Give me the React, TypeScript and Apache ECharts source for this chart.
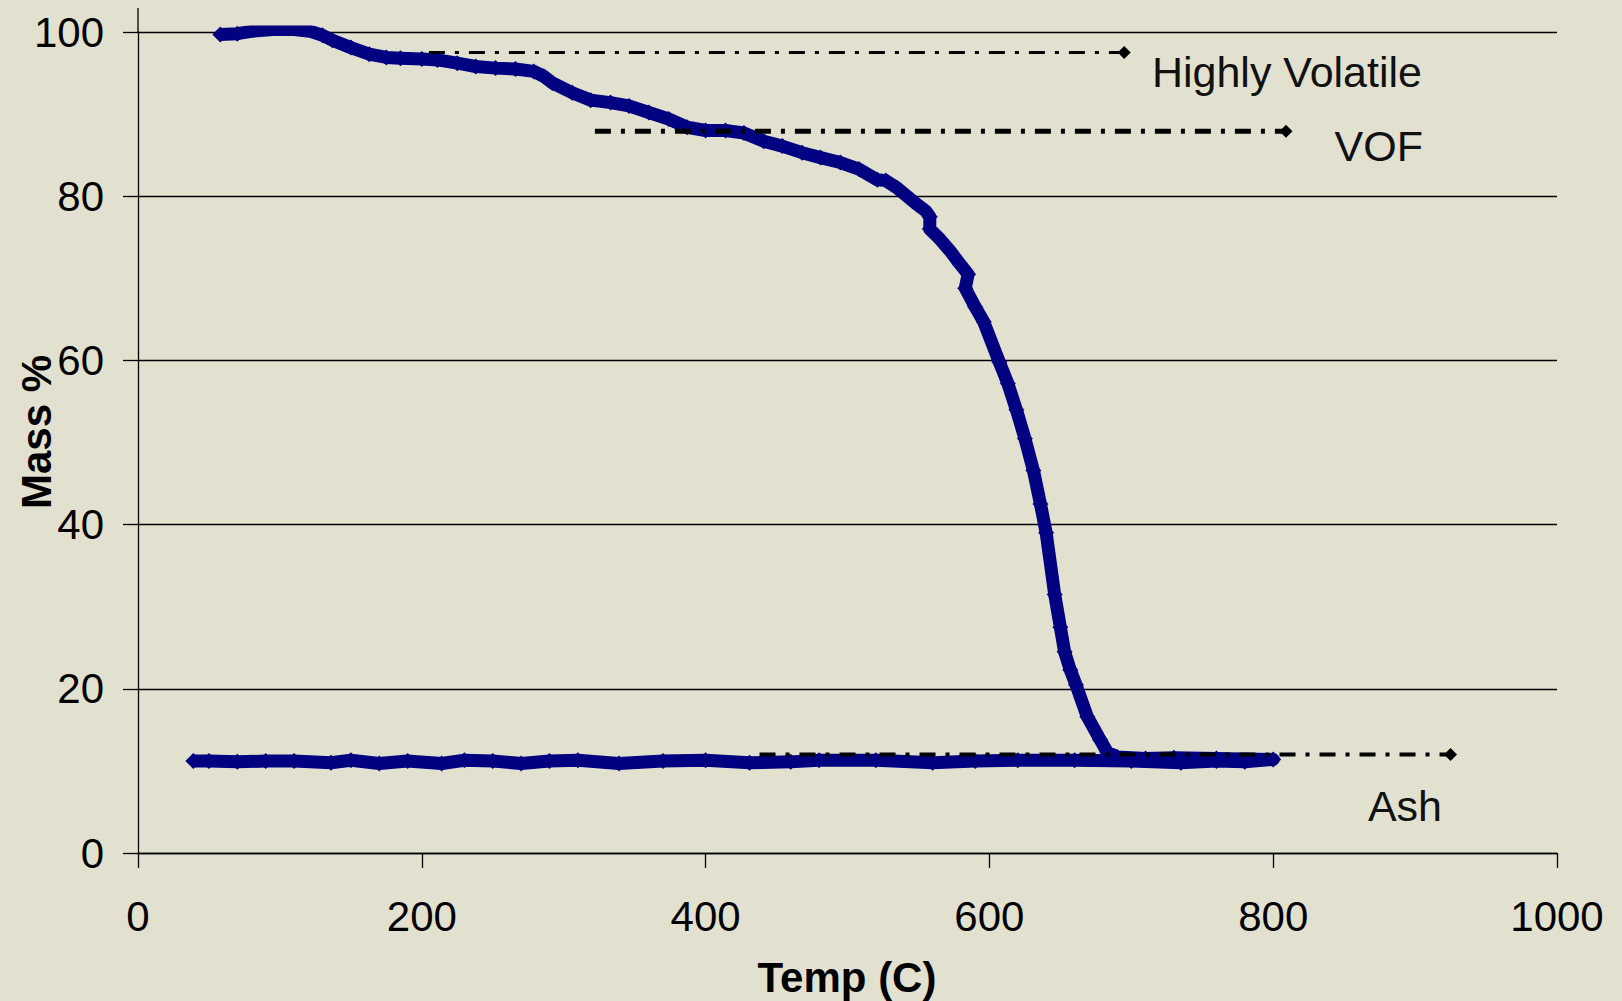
import React, { useEffect, useRef } from "react";
import * as echarts from "echarts";

// Temperature (°C) and mass (%) (heating, then return path at ash level)
const tempC = [
  58, 70, 81, 95, 110, 121, 130, 137, 150, 163, 175, 185, 200, 211, 225, 238, 252, 266, 279, 286, 292,
  306, 319, 333, 346, 360, 374, 387, 400, 414, 427, 441, 454, 468, 481, 495, 508, 521, 527, 535, 549,
  555, 558, 558, 565, 572, 579, 585, 583, 590, 596, 607, 613, 619, 625, 631, 636, 640, 646, 650, 653,
  657, 661, 669, 678, 683, 690, 710, 730, 760, 800,
  780, 760, 735, 700, 660, 620, 590, 560, 520, 480, 460, 431, 400, 370, 339, 310, 290, 270, 250, 230,
  214, 190, 170, 150, 136, 110, 90, 70, 50, 39,
];
const massPct = [
  99.7, 99.8, 100.1, 100.3, 100.3, 100.1, 99.6, 99.0, 98.1, 97.3, 96.9, 96.8, 96.7, 96.6, 96.2, 95.8, 95.6, 95.5, 95.2, 94.6, 93.8,
  92.6, 91.7, 91.4, 91.0, 90.2, 89.4, 88.4, 88.0, 88.0, 87.7, 86.7, 86.1, 85.3, 84.7, 84.1, 83.3, 82.0, 81.9, 81.0, 79.0,
  78.2, 77.5, 76.0, 74.8, 73.4, 71.8, 70.5, 68.8, 66.5, 64.7, 59.8, 57.2, 54.0, 50.5, 46.6, 42.5, 39.0, 31.5, 27.5, 24.5,
  22.3, 20.5, 16.6, 13.8, 12.3, 11.7, 11.5, 11.6, 11.5, 11.4,
  11.1, 11.2, 11.0, 11.2, 11.3, 11.3, 11.2, 11.0, 11.3, 11.3, 11.1, 11.0, 11.3, 11.2, 10.9, 11.3, 11.2, 10.9, 11.2, 11.3,
  10.9, 11.2, 10.9, 11.3, 11.0, 11.2, 11.2, 11.1, 11.2, 11.2,
];

// Reference (dash-dot) lines
const refNames = ["Highly Volatile", "VOF", "Ash"];
const refStart = [205, 322, 438];
const refEnd = [695, 809, 925];
const refLevel = [97.5, 87.9, 12.0];
const refWidth = [3, 5, 4];

const xTicks = { min: 0, max: 1000, interval: 200 };
const yTicks = { min: 0, max: 100, interval: 20 };

const FONT = '"Liberation Sans", Arial, sans-serif';

export default function App() {
  const ref = useRef<HTMLDivElement>(null);

  useEffect(() => {
    document.body.style.margin = "0";
    document.body.style.overflow = "hidden";
    if (!ref.current) return;
    const chart = echarts.init(ref.current, undefined, { renderer: "svg" });

    const mainData = tempC.map((t, i) => [t, massPct[i]]);

    const refSeries = refNames.map((name, i) => ({
      name,
      type: "line",
      z: 5,
      showSymbol: true,
      data: [
        { value: [refStart[i], refLevel[i]], symbol: "none" },
        { value: [refEnd[i], refLevel[i]], symbol: "diamond", symbolSize: 13 },
      ],
      lineStyle: { color: "#000", width: refWidth[i], type: [16, 10, 4, 10] },
      itemStyle: { color: "#000" },
      silent: true,
    }));

    chart.setOption({
      animation: false,
      backgroundColor: "#e2e1cf",
      grid: { left: 138, right: 65, top: 32, bottom: 148 },
      xAxis: {
        type: "value",
        ...xTicks,
        axisLine: { show: true, lineStyle: { color: "#000", width: 1.3 } },
        axisTick: { show: true, length: 15, lineStyle: { color: "#000", width: 1.3 } },
        splitLine: { show: false },
        axisLabel: {
          fontSize: 42,
          color: "#000",
          fontFamily: FONT,
          margin: 42,
          formatter: (v: number) => String(v),
        },
      },
      yAxis: {
        type: "value",
        ...yTicks,
        axisLine: { show: true, lineStyle: { color: "#000", width: 1.3 } },
        axisTick: { show: true, length: 15, lineStyle: { color: "#000", width: 1.3 } },
        splitLine: { show: true, lineStyle: { color: "#000", width: 1.3 } },
        axisLabel: { fontSize: 42, color: "#000", fontFamily: FONT, margin: 34 },
      },
      series: [
        {
          name: "Mass %",
          type: "line",
          z: 3,
          data: mainData,
          symbol: "diamond",
          symbolSize: 16,
          showAllSymbol: true,
          lineStyle: { color: "#000080", width: 13, join: "round" },
          itemStyle: { color: "#000080" },
        },
        ...refSeries,
      ],
      graphic: [
        {
          type: "line",
          shape: { x1: 138, y1: 8, x2: 138, y2: 32 },
          style: { stroke: "#000", lineWidth: 1.3 },
        },
        {
          type: "text",
          x: 36,
          y: 432,
          rotation: Math.PI / 2,
          style: {
            text: "Mass %",
            x: 0,
            y: 0,
            align: "center",
            verticalAlign: "middle",
            font: `bold 42px ${FONT}`,
            fill: "#000",
          },
        },
        {
          type: "text",
          style: {
            text: "Temp (C)",
            x: 847,
            y: 977,
            align: "center",
            verticalAlign: "middle",
            font: `bold 42px ${FONT}`,
            fill: "#000",
          },
        },
        {
          type: "text",
          style: {
            text: refNames[0],
            x: 1422,
            y: 72,
            align: "right",
            verticalAlign: "middle",
            font: `43px ${FONT}`,
            fill: "#111",
          },
        },
        {
          type: "text",
          style: {
            text: refNames[1],
            x: 1423,
            y: 146,
            align: "right",
            verticalAlign: "middle",
            font: `43px ${FONT}`,
            fill: "#111",
          },
        },
        {
          type: "text",
          style: {
            text: refNames[2],
            x: 1442,
            y: 806,
            align: "right",
            verticalAlign: "middle",
            font: `43px ${FONT}`,
            fill: "#111",
          },
        },
      ],
    });

    return () => {
      chart.dispose();
    };
  }, []);

  return <div ref={ref} style={{ width: 1622, height: 1001 }} />;
}
